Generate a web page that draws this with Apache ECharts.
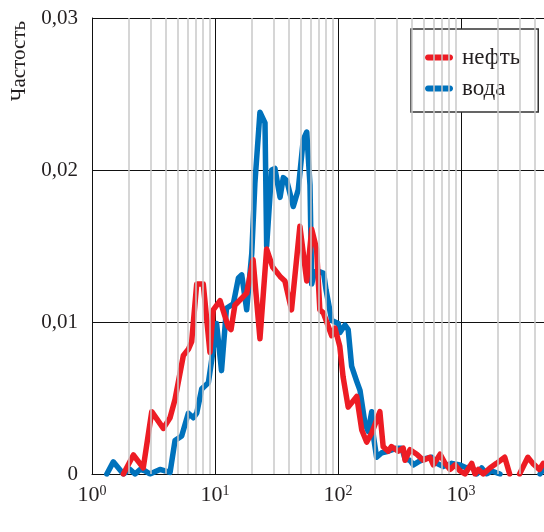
<!DOCTYPE html>
<html>
<head>
<meta charset="utf-8">
<script src="https://cdn.jsdelivr.net/npm/echarts@6/dist/echarts.min.js"></script>
<style>html,body{margin:0;padding:0;background:#fff}#c{width:544px;height:532px}</style>
</head>
<body>
<div id="c"></div>
<script>
// ---- data ----
const seriesNames = ['нефть', 'вода'];
const seriesColors = ['#ed1c24', '#0072bc'];
const yTicks = [0, 0.01, 0.02, 0.03];
const xDecades = [1, 10, 100, 1000];
const xMax = 4730; // right edge of the visible plot

const waterX = [1.32,1.49,1.64,1.80,2.04,2.24,2.46,2.70,2.96,3.57,4.31,4.73,5.36,6.07,6.67,7.10,7.80,8.83,9.40,10.3,11.3,12.4,14.1,15.5,16.5,18.1,19.9,21.1,23.2,25.5,26.3,28.9,30.7,33.8,35.9,38.3,43.3,47.5,52.2,55.7,59.2,61.1,64.5,71.2,76.5,80.0,88.9,100.5,103.4,114,121,129,142,151,166,176,188,194,206,227,256,300,330,351,385,410,450,510,578,634,718,840,982,1112,1222,1342,1473,1618,1777,2075,2300,4390,4670,5290];
const waterY = [0,0.0008,0.0004,0,0.0003,0,0.0003,0.0002,0,0.0003,0.0001,0.0022,0.0025,0.0040,0.0037,0.0040,0.0056,0.0060,0.0075,0.0099,0.0068,0.0109,0.0112,0.0129,0.0131,0.0108,0.0145,0.0191,0.0238,0.0231,0.0150,0.0200,0.0201,0.0182,0.0195,0.0193,0.0176,0.0187,0.0220,0.0225,0.0190,0.0125,0.0133,0.0133,0.0132,0.0121,0.0101,0.0099,0.0093,0.0098,0.0095,0.0071,0.0061,0.0055,0.0033,0.0028,0.0041,0.0025,0.0011,0.0014,0.0015,0.0017,0.0017,0.0010,0.0009,0.0006,0.0008,0.0010,0.0011,0.0007,0.0005,0.0007,0.0006,0.0004,0.0005,0,0.0004,0,0.0002,0,null,0,0.0003,0.0005];

const oilX = [1.80,2.17,2.61,3.06,3.80,4.31,4.73,5.53,6.07,6.46,7.10,8.03,9.10,9.68,11.0,12.8,13.5,14.5,18.1,20.4,23.2,26.3,29.5,33.8,37.0,41.9,49.0,55.7,61.1,67.0,71.2,76.0,80.9,88.9,94.5,103.4,110,121,142,156,171,188,219,233,256,272,309,339,351,385,437,493,560,596,677,742,815,895,982,1078,1222,1300,1385,1518,1719,1945,2268,2487,2700,2995,3495,3833,4338,4675,5400];
const oilY = [0,0.00125,0.0004,0.0041,0.0030,0.0037,0.0049,0.0078,0.0082,0.0087,0.0125,0.0125,0.0080,0.0108,0.0114,0.0097,0.0095,0.0111,0.0119,0.0141,0.0089,0.0148,0.0136,0.0130,0.0127,0.0108,0.0163,0.0127,0.0161,0.0148,0.0108,0.0106,0.0100,0.0091,0.0096,0.0084,0.0064,0.0044,0.0051,0.0029,0.0021,0.0027,0.0041,0.0018,0.0015,0.0018,0.0015,0.0017,0.0009,0.0016,0.0013,0.0009,0.0011,0.0006,0.0013,0.0007,0.0003,0.0006,0.0002,0,0.0007,0,0.0003,0,0.0004,0.0007,0.0011,0,null,0,0.0011,0.0007,0.0003,0.0007,0.0004];

const minorMult = [2,3,4,5,6,7,8,9];

// ---- build ----
const pairs = (xs, ys) => xs.map((x, i) => [x, ys[i] === null ? '-' : ys[i]]);
const minorLines = [];
xDecades.forEach(d => minorMult.forEach(m => { if (d * m < xMax) minorLines.push({ xAxis: d * m }); }));

const PILL = 'path://M3,0 L25,0 C29,0 29,6 25,6 L3,6 C-1,6 -1,0 3,0 Z';
const FONT = '"Liberation Serif", "DejaVu Serif", serif';
const chart = echarts.init(document.getElementById('c'), null, { renderer: 'canvas' });
chart.setOption({
  animation: false,
  backgroundColor: '#fff',
  aria: { enabled: false, decal: { show: false } },
  grid: { left: 92, top: 18, right: 0, bottom: 58, show: false, containLabel: false },
  legend: {
    data: seriesNames.map((n, i) => ({
      name: n, icon: PILL,
      itemStyle: { color: seriesColors[i], borderWidth: 0, opacity: 1 }
    })),
    orient: 'vertical',
    left: 411, top: 29,
    backgroundColor: '#fff',
    borderColor: '#333', borderWidth: 1.5, borderRadius: 0,
    padding: [17, 18, 12, 14],
    itemGap: 8,
    itemWidth: 28, itemHeight: 6,
    textStyle: { fontFamily: FONT, fontSize: 23, color: '#231f20', padding: [0, 0, 0, 4] }
  },
  xAxis: {
    type: 'log', logBase: 10, min: 1, max: xMax,
    axisLine: { show: true, lineStyle: { color: '#111', width: 1 } },
    axisTick: { show: false },
    splitLine: { show: true, lineStyle: { color: '#111', width: 1 } },
    axisLabel: {
      margin: 10, showMaxLabel: false,
      formatter: v => { const l = Math.log10(v); const e = Math.round(l); if (Math.abs(l - e) > 1e-6) return ''; return '{b|10}{s|' + e + '}'; },
      rich: {
        b: { fontFamily: FONT, fontSize: 22, color: '#231f20' },
        s: { fontFamily: FONT, fontSize: 14, color: '#231f20', verticalAlign: 'top', padding: [0, 0, 8, 0] }
      }
    }
  },
  yAxis: {
    type: 'value', min: 0, max: 0.03, interval: 0.01,
    axisLine: { show: true, lineStyle: { color: '#111', width: 1 } },
    axisTick: { show: false },
    splitLine: { show: true, lineStyle: { color: '#111', width: 1 } },
    axisLabel: {
      margin: 14,
      fontFamily: FONT, fontSize: 21, color: '#231f20',
      formatter: v => v === 0 ? '0' : v.toFixed(2).replace('.', ',')
    }
  },
  graphic: [{
    type: 'text', x: 19, y: 61, rotation: Math.PI / 2,
    style: { text: 'Частость', fontFamily: FONT, fontSize: 21, fill: '#231f20', align: 'center', verticalAlign: 'middle' }
  }],
  series: [
    {
      type: 'line', name: '_grid', data: [], z: 1, silent: true,
      markLine: { silent: true, symbol: 'none', label: { show: false },
        lineStyle: { color: '#c8c8c8', width: 1.5, type: 'solid' }, data: minorLines, animation: false }
    },
    {
      type: 'line', name: seriesNames[1], data: pairs(waterX, waterY), z: 3,
      showSymbol: false, connectNulls: false,
      lineStyle: { color: seriesColors[1], width: 5.5, cap: 'round', join: 'round' },
      itemStyle: { color: seriesColors[1] }
    },
    {
      type: 'line', name: seriesNames[0], data: pairs(oilX, oilY), z: 4,
      showSymbol: false, connectNulls: false,
      lineStyle: { color: seriesColors[0], width: 5.5, cap: 'round', join: 'round' },
      itemStyle: { color: seriesColors[0] }
    }
  ]
});
</script>
</body>
</html>
